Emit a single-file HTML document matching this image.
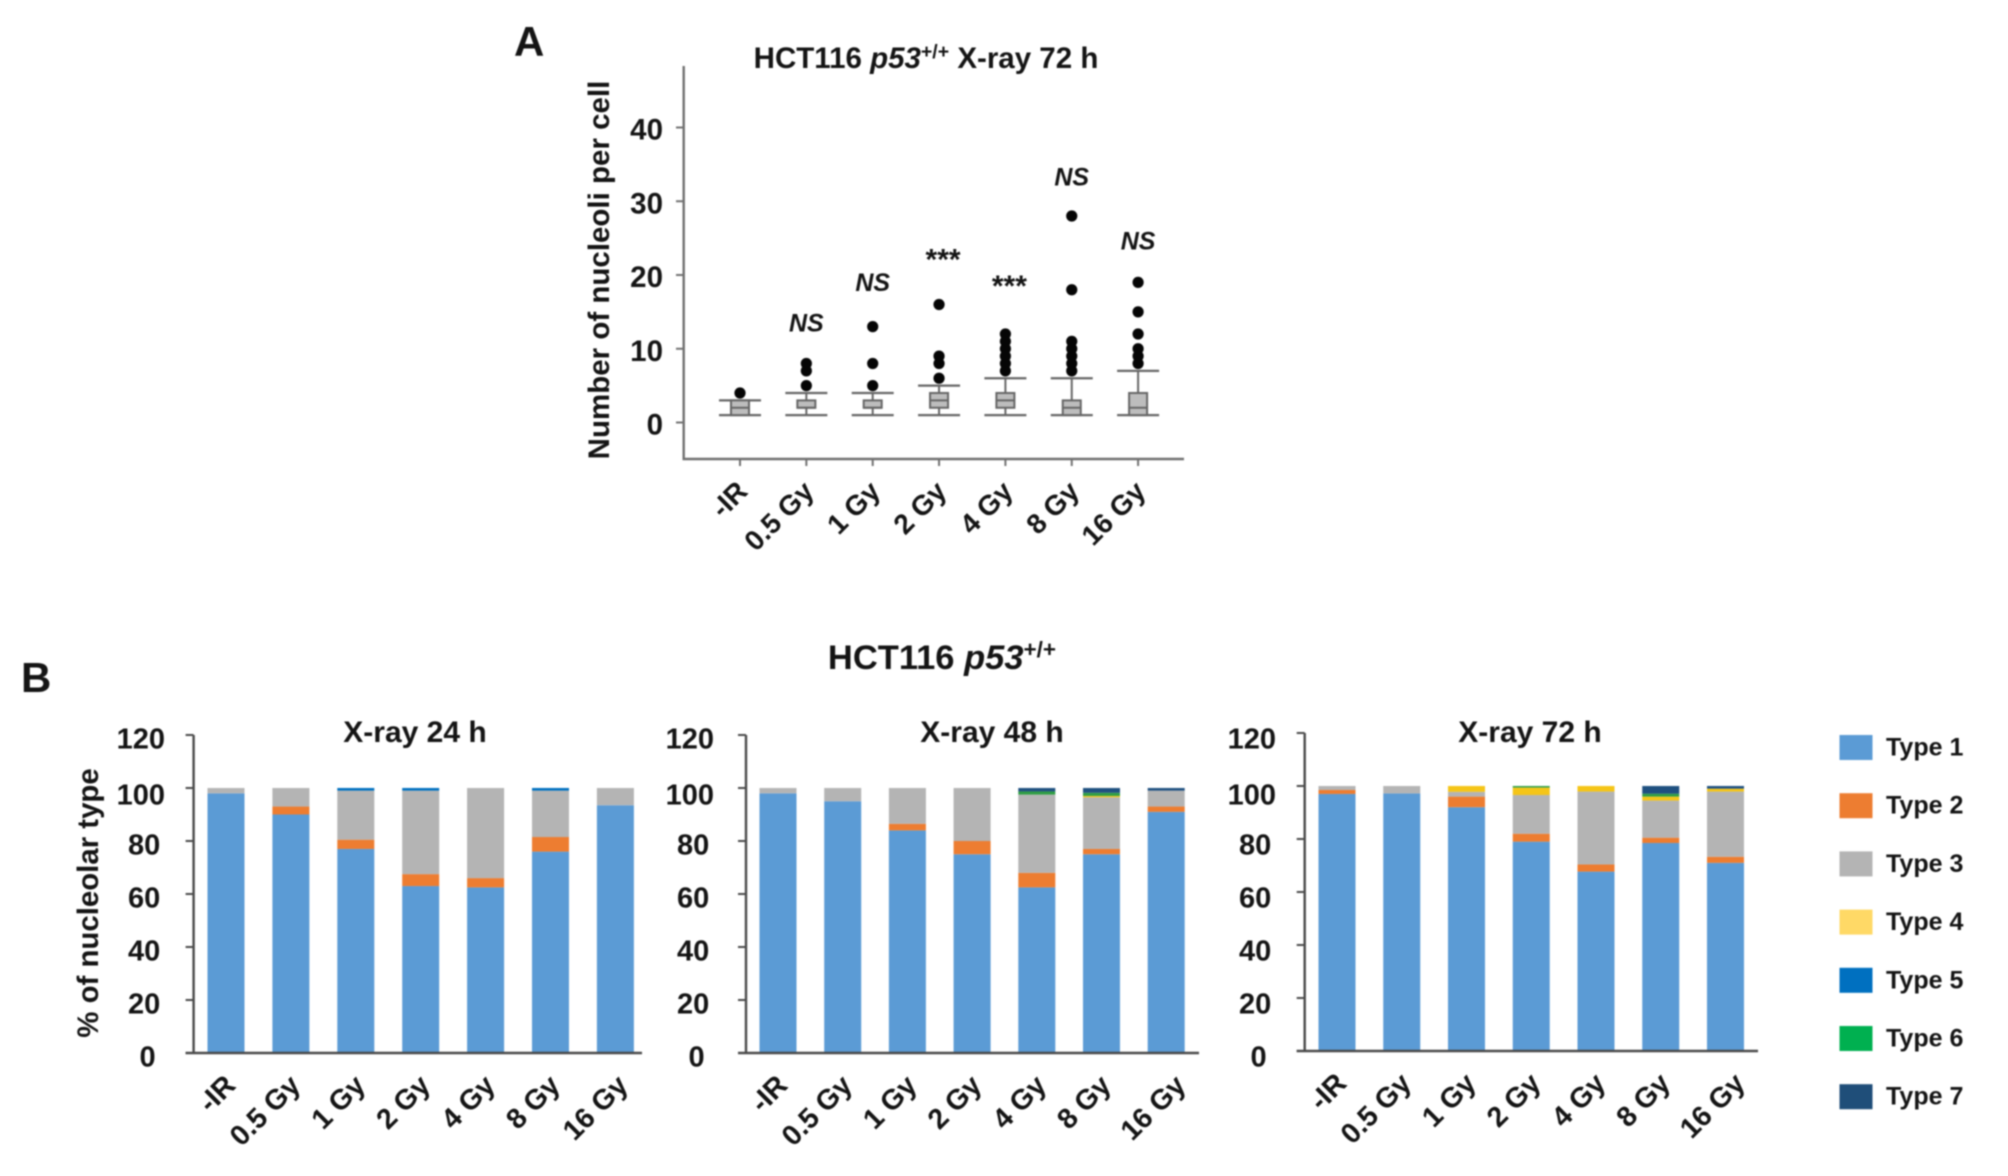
<!DOCTYPE html>
<html lang="en">
<head>
<meta charset="utf-8">
<title>HCT116 p53 nucleoli charts</title>
<style>
html,body{margin:0;padding:0;background:#fff;width:2008px;height:1176px;overflow:hidden}
svg{display:block;filter:blur(0.85px)}
text{font-family:"Liberation Sans",Arial,sans-serif;font-weight:bold;fill:#141414}
</style>
</head>
<body>
<svg id="figure" xmlns="http://www.w3.org/2000/svg" width="2008" height="1176" viewBox="0 0 2008 1176">
  <rect x="0" y="0" width="2008" height="1176" fill="#ffffff"/>
  <text x="514" y="56" font-size="42">A</text>
  <text x="21" y="692" font-size="42">B</text>
  <text x="926" y="68" font-size="29.5" text-anchor="middle">HCT116 <tspan font-style="italic">p53</tspan><tspan font-size="19.5" dy="-10">+/+</tspan><tspan dy="10"> X-ray 72 h</tspan></text>
  <text transform="translate(609,270) rotate(-90)" font-size="29.5" text-anchor="middle">Number of nucleoli per cell</text>
  <text x="942" y="669" font-size="34.5" text-anchor="middle">HCT116 <tspan font-style="italic">p53</tspan><tspan font-size="22.5" dy="-12">+/+</tspan></text>
  <text transform="translate(98,903) rotate(-90)" font-size="29.4" text-anchor="middle">% of nucleolar type</text>
  <text x="415" y="742" font-size="30" text-anchor="middle">X-ray 24 h</text>
  <text x="992" y="742" font-size="30" text-anchor="middle">X-ray 48 h</text>
  <text x="1530" y="742" font-size="30" text-anchor="middle">X-ray 72 h</text>
  <g id="layer"></g>
</svg>
<script>
// ---- Shared categories and tick labels ----
const categories = ["-IR", "0.5 Gy", "1 Gy", "2 Gy", "4 Gy", "8 Gy", "16 Gy"];
const boxTicks = [0, 10, 20, 30, 40];
const percentTicks = [0, 20, 40, 60, 80, 100, 120];

// ---- Panel A: box plot values ----
const boxWhiskerLow = [1, 1, 1, 1, 1, 1, 1];
const boxQ1 = [1, 2, 2, 2, 2, 1, 1];
const boxMedian = [2, 2, 2, 3, 3, 2, 2];
const boxQ3 = [3, 3, 3, 4, 4, 3, 4];
const boxWhiskerHigh = [3, 4, 4, 5, 6, 6, 7];
const boxOutliers = [
  [4],
  [5, 7, 8],
  [5, 8, 13],
  [6, 8, 9, 16],
  [7, 8, 9, 10, 11, 12],
  [7, 8, 9, 10, 11, 18, 28],
  [8, 9, 10, 12, 15, 19]
];
const significance = ["", "NS", "NS", "***", "***", "NS", "NS"];
const significanceLevel = [0, 13.7, 19.2, 22.1, 18.5, 33.5, 24.8];

// ---- Panel B: legend ----
const typeNames = ["Type 1", "Type 2", "Type 3", "Type 4", "Type 5", "Type 6", "Type 7"];
const typeColors = ["#5b9bd5", "#ed7d31", "#b4b4b4", "#f5c518", "#0070c0", "#2f9e44", "#1f5080"];
const legendColors = ["#5b9bd5", "#ed7d31", "#b4b4b4", "#ffd966", "#0070c0", "#00b050", "#1f4e79"];

// ---- Panel B: percentages per type, X-ray 24 h ----
const h24Type1 = [98, 90, 77, 63, 62.5, 76, 93.5];
const h24Type2 = [0, 3, 3.5, 4.5, 3.5, 5.5, 0];
const h24Type3 = [2, 7, 18.5, 31.5, 34, 17.5, 6.5];
const h24Type4 = [0, 0, 0, 0, 0, 0, 0];
const h24Type5 = [0, 0, 1, 1, 0, 1, 0];
const h24Type6 = [0, 0, 0, 0, 0, 0, 0];
const h24Type7 = [0, 0, 0, 0, 0, 0, 0];

// ---- Panel B: percentages per type, X-ray 48 h ----
const h48Type1 = [98, 95, 84, 75, 62.5, 75, 91];
const h48Type2 = [0, 0, 2.5, 5, 5.5, 2, 2];
const h48Type3 = [2, 5, 13.5, 20, 29.5, 19.5, 6];
const h48Type4 = [0, 0, 0, 0, 0, 0.5, 0];
const h48Type5 = [0, 0, 0, 0, 0, 0, 0];
const h48Type6 = [0, 0, 0, 0, 1.2, 1.2, 0];
const h48Type7 = [0, 0, 0, 0, 1.3, 1.8, 1];

// ---- Panel B: percentages per type, X-ray 72 h ----
const h72Type1 = [97, 97.2, 92, 79, 67.7, 78.5, 71];
const h72Type2 = [1.5, 0, 4, 3, 2.7, 2, 2.3];
const h72Type3 = [1.5, 2.8, 1.8, 14.6, 27.5, 14, 24.6];
const h72Type4 = [0, 0, 2.2, 2.8, 2.1, 1.5, 1.1];
const h72Type5 = [0, 0, 0, 0, 0, 0, 0];
const h72Type6 = [0, 0, 0, 0.6, 0, 1.1, 0];
const h72Type7 = [0, 0, 0, 0, 0, 2.9, 1];

const NS = "http://www.w3.org/2000/svg";
const layer = document.getElementById("layer");

function make(tag, attrs, parent) {
  const el = document.createElementNS(NS, tag);
  for (const key in attrs) el.setAttribute(key, attrs[key]);
  (parent || layer).appendChild(el);
  return el;
}

// ---- Panel A drawing ----
function drawBoxPlot() {
  const y = v => 422.5 - v * 7.375;
  const x = i => 740 + i * 66.35;
  const axisColor = "#707070";
  const g = make("g", {});
  
  

  const yAxis = make("line", {x1: 683.7, x2: 683.7, y1: 66, y2: 460, stroke: axisColor, "stroke-width": 2.4}, g);
  
  
  const xAxis = make("line", {x1: 682.5, x2: 1184, y1: 459, y2: 459, stroke: axisColor, "stroke-width": 2.4}, g);
  
  

  boxTicks.forEach(v => {
    const tick = make("line", {x1: 676, x2: 684, y1: y(v), y2: y(v), stroke: axisColor, "stroke-width": 2}, g);
    
    
    const label = make("text", {x: 663, y: y(v) + 12, "font-size": 29.5, "text-anchor": "end"}, g);
    
    
    label.textContent = v;
  });

  categories.forEach((c, i) => {
    const cx = x(i);
    const tick = make("line", {x1: cx, x2: cx, y1: 459, y2: 466, stroke: axisColor, "stroke-width": 2}, g);
    
    
    const label = make("text", {transform: `translate(${cx + 9},493) rotate(-45)`, "font-size": 28, "text-anchor": "end"}, g);
    
    
    label.textContent = c;

    const whisker = make("line", {x1: cx, x2: cx, y1: y(boxWhiskerLow[i]), y2: y(boxWhiskerHigh[i]), stroke: "#666", "stroke-width": 2}, g);
    
    
    [boxWhiskerLow[i], boxWhiskerHigh[i]].forEach(v => {
      const cap = make("line", {x1: cx - 21, x2: cx + 21, y1: y(v), y2: y(v), stroke: "#666", "stroke-width": 2.2}, g);
      
      
    });
    const box = make("rect", {x: cx - 9, width: 18, y: y(boxQ3[i]), height: y(boxQ1[i]) - y(boxQ3[i]), fill: "#bdbdbd", stroke: "#666", "stroke-width": 2}, g);
    
    
    const median = make("line", {x1: cx - 9, x2: cx + 9, y1: y(boxMedian[i]), y2: y(boxMedian[i]), stroke: "#666", "stroke-width": 2}, g);
    
    

    boxOutliers[i].forEach(v => {
      const dot = make("circle", {cx: cx, cy: y(v), r: 5.6, fill: "#050505"}, g);
      
      
    });

    if (significance[i]) {
      const stars = significance[i] === "***";
      const mark = make("text", {x: cx + (stars ? 4 : 0), y: y(significanceLevel[i]) + 10, "font-size": stars ? 30 : 25, "font-style": stars ? "normal" : "italic", "text-anchor": "middle"}, g);
      
      
      mark.textContent = significance[i];
    }
  });
}

// ---- Panel B drawing ----
function drawStacked(name, cfg, seriesList) {
  const y = v => cfg.zero - v * cfg.unit;
  const x = i => cfg.first + i * cfg.step;
  const axisColor = "#4a4a4a";
  const g = make("g", {});
  
  

  categories.forEach((c, i) => {
    let base = 0;
    seriesList.forEach((series, s) => {
      const v = series[i];
      if (v > 0) {
        const seg = make("rect", {x: x(i) - 18.5, width: 37, y: y(base + v), height: y(base) - y(base + v), fill: typeColors[s]}, g);
        
        
      }
      base += v;
    });
    const shift = i === categories.length - 1 ? cfg.lastShift : 0;
    const label = make("text", {transform: `translate(${x(i) + 11 + shift},${cfg.zero + 34}) rotate(-45)`, "font-size": 28.5, "text-anchor": "end"}, g);
    
    
    label.textContent = c;
  });

  const yAxis = make("line", {x1: cfg.axis, x2: cfg.axis, y1: y(120), y2: cfg.zero, stroke: axisColor, "stroke-width": 2.4}, g);
  
  
  const xAxis = make("line", {x1: cfg.axis - 8, x2: cfg.right, y1: cfg.zero, y2: cfg.zero, stroke: axisColor, "stroke-width": 2.4}, g);
  
  

  percentTicks.forEach(v => {
    const tick = make("line", {x1: cfg.axis - 8, x2: cfg.axis, y1: y(v), y2: y(v), stroke: axisColor, "stroke-width": 2}, g);
    
    
    const digits = String(v).length;
    const nudge = v === 100 ? 3 : 0;
    const label = make("text", {x: cfg.labelRight - (3 - digits) * 4.7, y: y(v) + 13.5 + cfg.labelDy + nudge, "font-size": 29, "text-anchor": "end"}, g);
    
    
    label.textContent = v;
  });
}

function drawLegend() {
  const g = make("g", {});
  
  
  typeNames.forEach((t, i) => {
    const cy = 747.5 + i * 58.2;
    const swatch = make("rect", {x: 1839.5, y: cy - 12.5, width: 33, height: 25, fill: legendColors[i]}, g);
    
    
    const label = make("text", {x: 1886, y: cy + 8, "font-size": 25}, g);
    
    
    label.textContent = t;
  });
}

drawBoxPlot();
drawStacked("stacked-chart-24h", {zero: 1053, unit: 2.65, first: 226, step: 64.9, axis: 193.6, right: 642, labelRight: 165, labelDy: 0, lastShift: 3},
  [h24Type1, h24Type2, h24Type3, h24Type4, h24Type5, h24Type6, h24Type7]);
drawStacked("stacked-chart-48h", {zero: 1053, unit: 2.65, first: 778, step: 64.7, axis: 746, right: 1199, labelRight: 714, labelDy: 0, lastShift: 10},
  [h48Type1, h48Type2, h48Type3, h48Type4, h48Type5, h48Type6, h48Type7]);
drawStacked("stacked-chart-72h", {zero: 1051, unit: 2.65, first: 1337, step: 64.75, axis: 1304.7, right: 1758, labelRight: 1276, labelDy: 2, lastShift: 10},
  [h72Type1, h72Type2, h72Type3, h72Type4, h72Type5, h72Type6, h72Type7]);
drawLegend();
</script>
</body>
</html>
